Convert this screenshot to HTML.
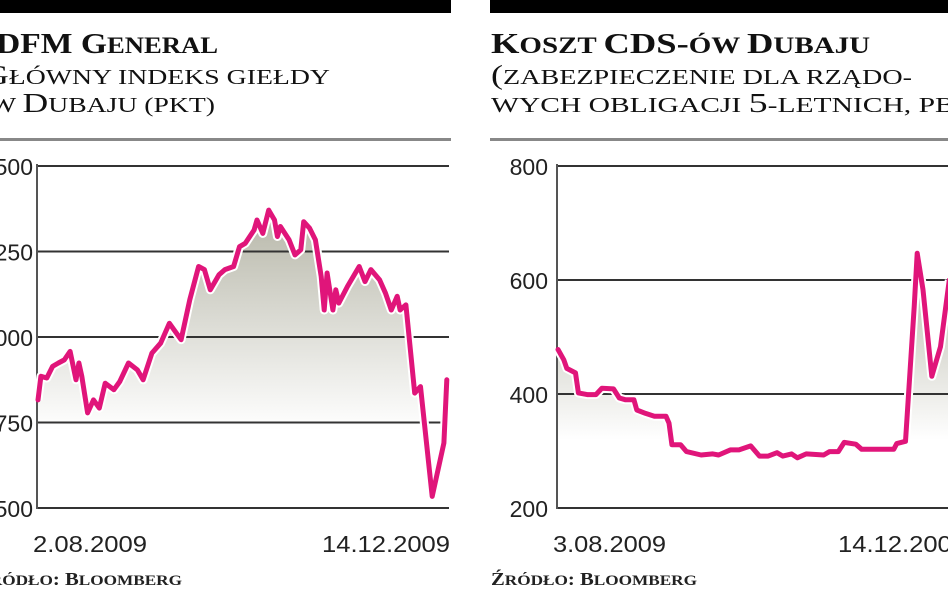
<!DOCTYPE html>
<html><head><meta charset="utf-8"><style>
html,body{margin:0;padding:0;background:#fff;width:948px;height:593px;overflow:hidden}
svg{display:block}
.ttl{font-family:"Liberation Serif",serif;font-weight:bold;font-size:29px;fill:#111}
.sub{font-family:"Liberation Serif",serif;font-size:27px;fill:#111}
.tick{font-family:"Liberation Sans",sans-serif;font-size:23px;fill:#222}
.src{font-family:"Liberation Serif",serif;font-weight:bold;font-size:18px;fill:#222}
</style></head><body>
<svg id="c" width="948" height="593">
<defs>
<linearGradient id="g1" x1="0" y1="230" x2="0" y2="430" gradientUnits="userSpaceOnUse"><stop offset="0" stop-color="#bdbdb0"/><stop offset="1" stop-color="#fff"/></linearGradient>
<linearGradient id="g2" x1="0" y1="290" x2="0" y2="440" gradientUnits="userSpaceOnUse"><stop offset="0" stop-color="#c4c4b8"/><stop offset="1" stop-color="#fff"/></linearGradient>
<clipPath id="cl"><rect x="0" y="0" width="452" height="593"/></clipPath>
</defs>
<rect x="0" y="0" width="451" height="13" fill="#000"/>
<rect x="490" y="0" width="458" height="13" fill="#000"/>
<text class="ttl" x="-4" y="53" textLength="222" lengthAdjust="spacingAndGlyphs">DFM G<tspan font-size="23">ENERAL</tspan></text>
<text class="sub" x="-17" y="84" textLength="347" lengthAdjust="spacingAndGlyphs">G<tspan font-size="21">ŁÓWNY INDEKS GIEŁDY</tspan></text>
<text class="sub" x="-10" y="112" textLength="225" lengthAdjust="spacingAndGlyphs"><tspan font-size="21">W </tspan>D<tspan font-size="21">UBAJU (PKT)</tspan></text>
<text class="ttl" x="491" y="53" textLength="379" lengthAdjust="spacingAndGlyphs">K<tspan font-size="23">OSZT </tspan>CDS-<tspan font-size="23">ÓW </tspan>D<tspan font-size="23">UBAJU</tspan></text>
<text class="sub" x="491" y="84" textLength="421" lengthAdjust="spacingAndGlyphs">(<tspan font-size="21">ZABEZPIECZENIE DLA RZĄDO-</tspan></text>
<text class="sub" x="491" y="112" textLength="490" lengthAdjust="spacingAndGlyphs"><tspan font-size="21">WYCH OBLIGACJI </tspan>5<tspan font-size="21">-LETNICH, PBS)</tspan></text>
<rect x="0" y="138" width="451" height="3" fill="#888"/>
<rect x="490" y="138" width="458" height="3" fill="#888"/>
<g id="left"></g>
<g id="right"></g>
<text class="tick" x="33" y="552" textLength="114" lengthAdjust="spacingAndGlyphs">2.08.2009</text>
<text class="tick" x="322" y="552" textLength="128" lengthAdjust="spacingAndGlyphs">14.12.2009</text>
<text class="tick" x="553" y="552" textLength="113" lengthAdjust="spacingAndGlyphs">3.08.2009</text>
<text class="tick" x="838" y="552" textLength="128" lengthAdjust="spacingAndGlyphs">14.12.2009</text>
<text class="src" x="-24" y="585" textLength="206" lengthAdjust="spacingAndGlyphs">Ź<tspan font-size="15">RÓDŁO</tspan>: B<tspan font-size="15">LOOMBERG</tspan></text>
<text class="src" x="491" y="585" textLength="206" lengthAdjust="spacingAndGlyphs">Ź<tspan font-size="15">RÓDŁO</tspan>: B<tspan font-size="15">LOOMBERG</tspan></text>
</svg>
<script>
const leftDays=[0,1,3,5,7,9,11,13,14,15,17,19,21,23,26,28,31,34,36,39,42,45,49,52,55,57,59,62,64,67,69,71,74,75,77,79,81,82,83,86,88,90,91,93,95,97,98,99,101,102,103,106,110,112,114,117,119,121,123,124,126,129,131,135,139,140];
const leftValues=[816,885,880,914,924,933,958,875,924,885,778,816,792,865,846,870,924,904,875,953,982,1040,992,1109,1206,1197,1138,1182,1197,1206,1264,1274,1313,1342,1303,1371,1342,1294,1323,1284,1240,1255,1337,1318,1284,1177,1079,1187,1079,1138,1099,1148,1206,1162,1197,1167,1128,1079,1119,1079,1094,836,855,534,690,875];
const leftTicks=[1500,1250,1000,750,500];
const rightDays=[0,2,3,6,7,10,13,15,19,21,23,26,27,30,33,37,38,39,42,44,49,53,55,59,62,66,69,72,75,77,80,82,85,91,93,96,98,102,104,110,115,116,119,122,123,125,128,131,134];
const rightValues=[478,460,445,437,402,399,399,410,409,393,390,390,372,366,361,361,349,311,311,299,293,295,293,302,302,309,291,291,297,291,295,288,295,293,299,299,315,312,303,303,303,313,317,553,647,583,431,483,600];
const rightTicks=[800,600,400,200];
const NS="http://www.w3.org/2000/svg";
function mk(p,tag,a){const e=document.createElementNS(NS,tag);for(const k in a)e.setAttribute(k,a[k]);p.appendChild(e);return e;}
function draw(g,days,vals,ticks,o){
  const x=d=>o.x0+d*o.pxDay;
  const y=v=>o.yTop+(o.vMax-v)/(o.vMax-o.vMin)*(o.yBot-o.yTop);
  const pts=days.map((d,i)=>x(d).toFixed(1)+','+y(vals[i]).toFixed(1));
  const area=mk(g,'polygon',{points:pts.join(' ')+' '+x(days[days.length-1])+','+o.yBot+' '+x(days[0])+','+o.yBot,fill:o.grad});
  
  
  ticks.forEach(t=>{
    const ln=mk(g,'line',{x1:o.axisX,x2:o.xEnd,y1:y(t),y2:y(t),stroke:'#333','stroke-width':2});
    
    
    const tx=mk(g,'text',{x:o.labX,y:y(t)+9,'text-anchor':'end',class:'tick'});
    tx.textContent=t;
    
    
  });
  const ax=mk(g,'line',{x1:o.axisX,x2:o.axisX,y1:o.yTop-2,y2:o.yBot+1,stroke:'#555','stroke-width':2});
  
  
  const wl=mk(g,'polyline',{points:pts.join(' '),fill:'none',stroke:'#fff','stroke-width':9,'stroke-linejoin':'round'});
  
  
  const pl=mk(g,'polyline',{points:pts.join(' '),fill:'none',stroke:'#e0157a','stroke-width':5,'stroke-linejoin':'round','stroke-linecap':'round'});
  
  
}
const L=document.getElementById('left');L.setAttribute('clip-path','url(#cl)');
draw(L,leftDays,leftValues,leftTicks,{x0:38,pxDay:2.92,yTop:166,yBot:508,vMax:1500,vMin:500,axisX:37,xEnd:449,labX:33,grad:'url(#g1)'});
draw(document.getElementById('right'),rightDays,rightValues,rightTicks,{x0:558,pxDay:2.92,yTop:166,yBot:508,vMax:800,vMin:200,axisX:557,xEnd:948,labX:548,grad:'url(#g2)'});
</script>
</body></html>
